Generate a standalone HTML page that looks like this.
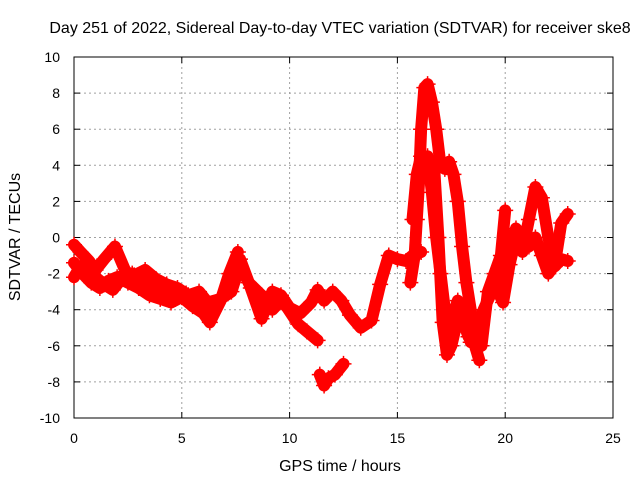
<!DOCTYPE html>
<html><head><meta charset="utf-8"><style>
body{margin:0;background:#fff;font-family:"Liberation Sans",sans-serif}
svg text{font-family:"Liberation Sans",sans-serif;font-size:14px;fill:#000}
svg text.big{font-size:16px}
</style></head><body>
<svg id="chart" width="640" height="480">
<text class="big" x="340" y="33" text-anchor="middle">Day 251 of 2022, Sidereal Day-to-day VTEC variation (SDTVAR) for receiver ske8</text>
<g id="grid"></g><g id="axes"></g><g id="marks"></g>
<text class="big" x="340" y="471" text-anchor="middle">GPS time / hours</text>
<text class="big" transform="translate(20,237) rotate(-90)" text-anchor="middle">SDTVAR / TECUs</text>
</svg>
<script>
const xTicks=[0,5,10,15,20,25];
const yTicks=[-10,-8,-6,-4,-2,0,2,4,6,8,10];
const t1h=[0,0.4,0.8,1.2,1.6,2,2.5,3,3.5,4,4.5,5,5.5,6,6.3,6.8,7.2,7.6];
const t1v=[-1.4,-2,-2.5,-2.8,-2.4,-2.2,-2.5,-2.8,-3.2,-3.4,-3.6,-3.3,-3.8,-4.2,-4.7,-3.5,-2,-0.8];
const t2h=[0,0.3,0.7,1,1.4,1.9,2.4,2.8,3.3,3.8,4.3,4.8,5.3,5.8,6.2,6.8,7.3,7.7,8.1,8.7,9.2,9.6,9.9,10.4,10.8,11.3];
const t2v=[-0.4,-0.8,-1.3,-1.8,-1.2,-0.5,-1.9,-2.1,-1.8,-2.3,-2.6,-2.8,-3.2,-3.0,-3.6,-3.4,-3.0,-1.5,-2.5,-3.2,-4.0,-3.5,-3.9,-4.8,-5.2,-5.7];
const t2bh=[0,0.3,0.6,1,1.4,1.8,2.2,2.7,3.2,3.7,4.2,4.7,5.2,5.7,6.1,6.6];
const t2bv=[-2.2,-1.6,-2.0,-2.2,-2.6,-2.9,-2.3,-2.0,-2.4,-2.9,-3.1,-3.4,-3.1,-3.4,-3.9,-3.6];
const t3h=[7.7,8.2,8.7,9.2,9.6,10,10.5,11,11.3,11.6,12,12.4,12.8,13.3,13.8,14.2,14.6,15,15.4,15.7,16.1];
const t3v=[-1.2,-2.8,-4.5,-3,-3.2,-3.9,-4.2,-3.6,-2.9,-3.5,-3.0,-3.5,-4.3,-5.0,-4.6,-2.6,-1.0,-1.2,-1.3,-1.0,-0.8];
const t4h=[11.4,11.6,11.8,12.1,12.5];
const t4v=[-7.6,-8.2,-7.8,-7.6,-7.0];
const t5h=[15.6,15.8,15.9,16,16.1,16.25,16.4,16.6,16.8,17,17.2,17.4,17.6,17.8,18.0,18.2,18.4,18.6,18.8];
const t5v=[-2.5,-1,1,3,6,8.3,8.5,7.5,6,4,3.8,4.2,3.5,2,-0.5,-2.5,-4,-6,-6.8];
const t6h=[15.7,15.9,16.1,16.3,16.5,16.7,16.9,17.1,17.3,17.5,17.7,18,18.3,18.6,18.9,19.2,19.5,19.8,20];
const t6v=[1,3.5,4.5,3.5,4,4,0,-4.7,-6.5,-6,-5,-4.5,-5.5,-5,-6,-3,-2,-1,1.5];
const t7h=[16.4,16.6,16.8,17,17.2,17.4,17.6,17.8,18.1,18.4,18.7,19,19.3,19.6,19.9,20.2,20.5,20.8,21.1,21.4,21.7,22,22.3,22.6,22.9];
const t7v=[4.5,2.5,0,-2,-4,-5,-4.2,-3.5,-4.5,-5.8,-5,-4,-3.2,-2.8,-3.6,-1.5,0,-0.8,1,2.8,2.2,0,-1.6,-1.2,-1.3];
const t8h=[19.6,19.9,20.2,20.5,20.8,21.1,21.4,21.7,22,22.3,22.6,22.9];
const t8v=[-2.5,-1,-0.5,0.5,0,-0.5,0,-1,-2,-1.5,0.8,1.3];
const tracks=[[t1h,t1v],[t2h,t2v],[t2bh,t2bv],[t3h,t3v],[t4h,t4v],[t5h,t5v],[t6h,t6v],[t7h,t7v],[t8h,t8v]];

const X0=74,X1=613,Y0=418,Y1=57;
function xs(h){return X0+(h-0)/(25-0)*(X1-X0);}
function ys(v){return Y0-(v+10)/20*(Y0-Y1);}
const NS="http://www.w3.org/2000/svg";
function mk(tag,parent,attrs){const e=document.createElementNS(NS,tag);for(const k in attrs)e.setAttribute(k,attrs[k]);parent.appendChild(e);return e;}
const grid=document.getElementById('grid'),axes=document.getElementById('axes'),marks=document.getElementById('marks');
xTicks.forEach(t=>{
  const x=xs(t);
  if(t>0&&t<25){const g=mk('line',grid,{x1:x,x2:x,y1:Y1,y2:Y0,stroke:'#a0a0a0','stroke-dasharray':'2,3'});
  
  }
  mk('line',axes,{x1:x,x2:x,y1:Y0,y2:Y0-6,stroke:'#000'});
  mk('line',axes,{x1:x,x2:x,y1:Y1,y2:Y1+6,stroke:'#000'});
  const l=mk('text',axes,{x:x,y:443,'text-anchor':'middle'});l.textContent=t;
  
  
});
yTicks.forEach(t=>{
  const y=ys(t);
  if(t>-10&&t<10){const g=mk('line',grid,{x1:X0,x2:X1,y1:y,y2:y,stroke:'#a0a0a0','stroke-dasharray':'2,3'});
  
  }
  mk('line',axes,{x1:X0,x2:X0+6,y1:y,y2:y,stroke:'#000'});
  mk('line',axes,{x1:X1,x2:X1-6,y1:y,y2:y,stroke:'#000'});
  const l=mk('text',axes,{x:60,y:y+5,'text-anchor':'end'});l.textContent=t;
  
  
});
const frame=mk('rect',axes,{x:X0,y:Y1,width:X1-X0,height:Y0-Y1,fill:'none',stroke:'#000'});


tracks.forEach(([hs,vs])=>{
  const pts=hs.map((h,i)=>xs(h)+','+ys(vs[i])).join(' ');
  const pl=mk('polyline',marks,{points:pts,fill:'none',stroke:'#ff0000','stroke-width':12,'stroke-linejoin':'round','stroke-linecap':'round'});
  
  
  hs.forEach((h,i)=>{
    const x=xs(h),y=ys(vs[i]);
    const p=mk('path',marks,{d:`M${x-8},${y}h16M${x},${y-8}v16`,stroke:'#ff0000','stroke-width':1.5});
    
    
  });
});
</script>
</body></html>
